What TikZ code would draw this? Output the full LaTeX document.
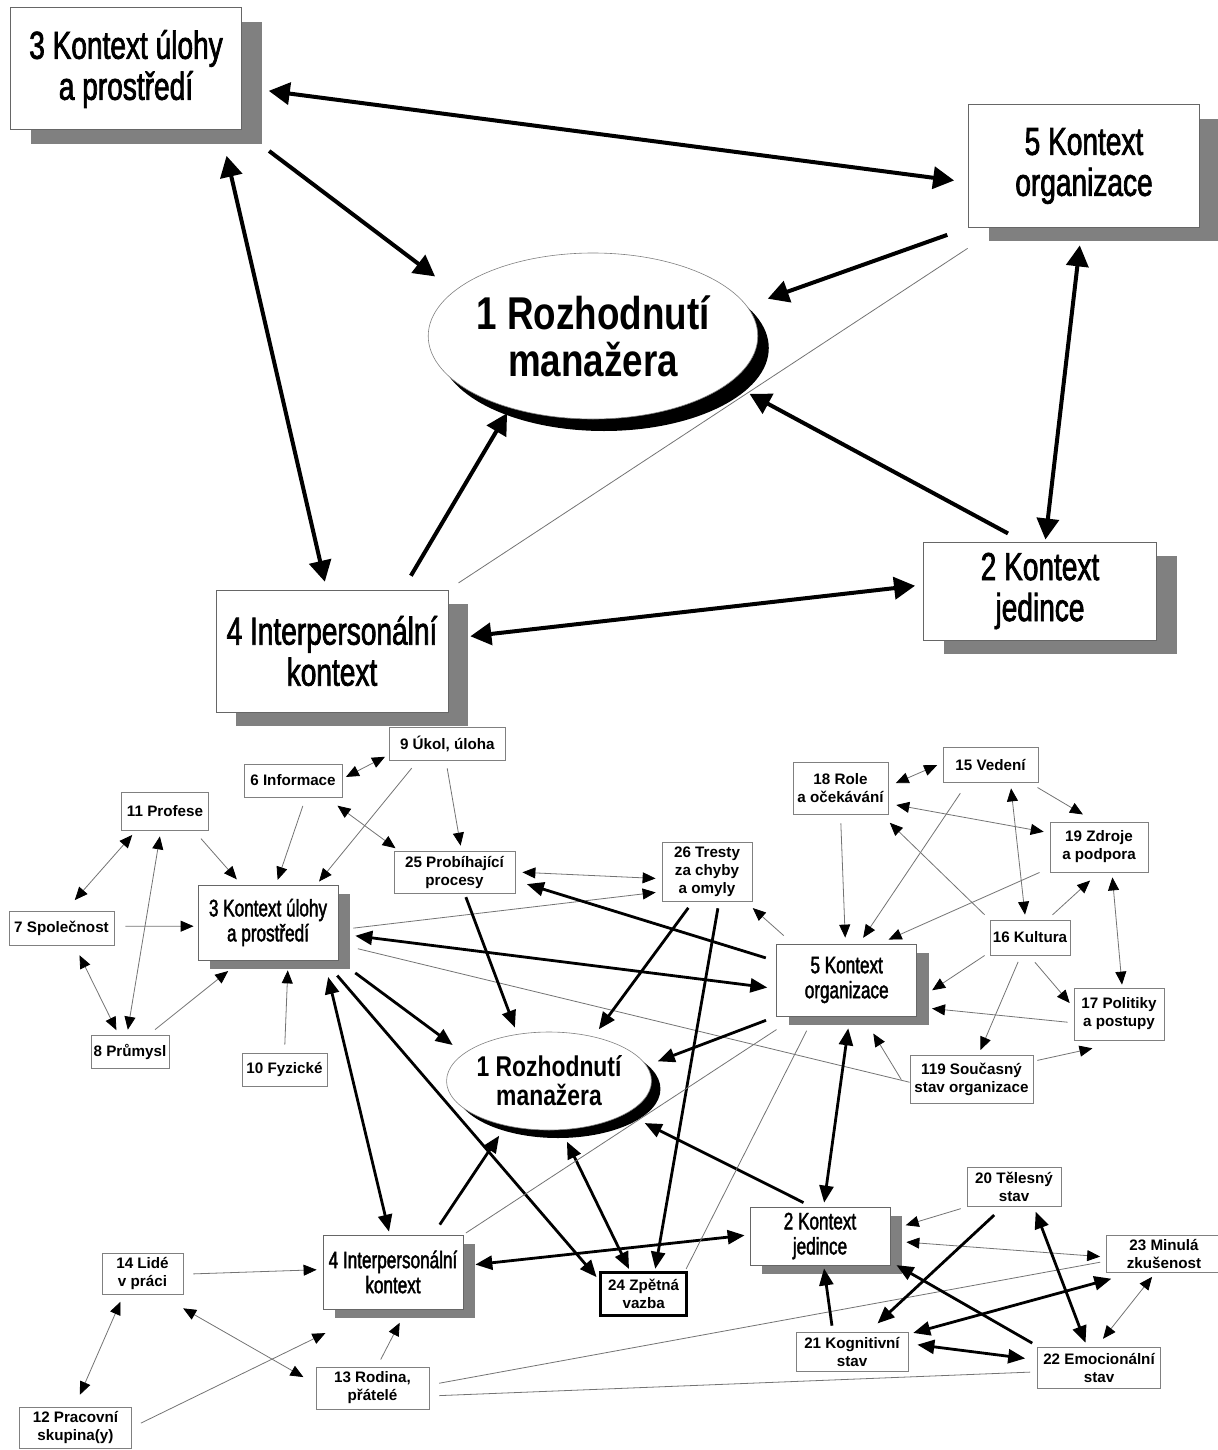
\documentclass[tikz,border=0pt]{standalone}
\usepackage{fontspec}
\setmainfont{Liberation Sans}
\newfontfamily\narrowfont[FakeStretch=0.72,FakeBold=1.8]{Liberation Sans}
\newfontfamily\ovalfont[FakeStretch=0.8]{Liberation Sans}
\usetikzlibrary{arrows.meta,shapes.geometric,shadows}

\begin{document}
\begin{tikzpicture}[x=0.5pt,y=-0.5pt,
  bigbox/.style={draw=black!60,line width=0.5pt,fill=white,align=center,inner sep=0pt,
    font=\narrowfont\fontsize{19.5pt}{20.5pt}\selectfont,
    drop shadow={shadow xshift=10pt,shadow yshift=-7pt,fill=black!50,opacity=1}},
  midbox/.style={draw=black!60,line width=0.4pt,fill=white,align=center,inner sep=0pt,
    font=\narrowfont\fontsize{11.9pt}{12.5pt}\selectfont,
    drop shadow={shadow xshift=6pt,shadow yshift=-4.5pt,fill=black!50,opacity=1}},
  smallbox/.style={draw=black!50,line width=0.4pt,fill=white,align=center,inner sep=0pt,
    font=\bfseries\fontsize{7.6pt}{9pt}\selectfont},
  bigoval/.style={ellipse,draw=black!50,line width=0.3pt,fill=white,align=center,inner sep=0pt,
    font=\ovalfont\bfseries\fontsize{23pt}{23.5pt}\selectfont,
    drop shadow={shadow xshift=5.5pt,shadow yshift=-6pt,fill=black,opacity=1}},
  smalloval/.style={ellipse,draw=black!50,line width=0.3pt,fill=white,align=center,inner sep=0pt,
    font=\ovalfont\bfseries\fontsize{14.3pt}{14.5pt}\selectfont,
    drop shadow={shadow xshift=4.5pt,shadow yshift=-4pt,fill=black,opacity=1}},
  bigarr/.style={line width=2pt,>={Triangle[length=10.5pt,width=11pt]}},
  midarr/.style={line width=1.4pt,>={Triangle[length=8.5pt,width=7pt]}},
  thinline/.style={draw=black!55,line width=0.4pt},
  thinarr/.style={thinline,>={Triangle[length=6.5pt,width=5.5pt,color=black]}}]
\useasboundingbox (0,0) rectangle (1218,1450);

\node[bigbox,minimum width=115.5pt,minimum height=61pt] (t3) at (126,69) {3 Kontext úlohy\\a prostředí};
\node[bigbox,minimum width=115.5pt,minimum height=61pt] (t5) at (1084,166) {5 Kontext\\organizace};
\node[bigoval,minimum width=162pt,minimum height=83pt] (t1) at (593,336) {1 Rozhodnutí\\manažera};
\node[bigbox,minimum width=116.5pt,minimum height=49pt] (t2) at (1040,591) {2 Kontext\\jedince};
\node[bigbox,minimum width=116pt,minimum height=61pt] (t4) at (332,651) {4 Interpersonální\\kontext};

\draw[bigarr,<->,shorten <=13.5pt,shorten >=7pt] (t3.-9) -- (t5.188);
\draw[bigarr,->,shorten <=17pt,shorten >=12pt] (t3.south east) -- (t1.162);
\draw[bigarr,<->,shorten <=13pt,shorten >=4pt] (t3.-33) -- (t4.95);
\draw[bigarr,->,shorten <=11pt,shorten >=11pt] (t5.south west) -- (t1.11);
\draw[bigarr,<->,shorten <=9pt,shorten >=1pt] (t5.-92) -- (t2.84);
\draw[bigarr,->,shorten <=8.5pt,shorten >=11.5pt] (t2.109) -- (t1.-19);
\draw[bigarr,->,shorten <=8pt,shorten >=3pt] (t4.41) -- (t1.221);
\draw[bigarr,<->,shorten <=11pt,shorten >=4pt] (t4.6) -- (t2.177);
\draw[thinline,shorten <=6pt,shorten >=19pt] (t4.north east) -- (t5.216);

\node[smallbox,minimum width=58.3pt,minimum height=16.5pt] (n9) at (447.3,743.5) {9 Úkol, úloha};
\node[smallbox,minimum width=49pt,minimum height=16.5pt] (n6) at (293,780.5) {6 Informace};
\node[smallbox,minimum width=43.5pt,minimum height=19pt] (n11) at (165,811) {11 Profese};
\node[smallbox,minimum width=60.5pt,minimum height=21pt] (n25) at (454.5,872) {25 Probíhající\\procesy};
\node[smallbox,minimum width=45pt,minimum height=29.5pt] (n26) at (707,871.5) {26 Tresty\\za chyby\\a omyly};
\node[midbox,minimum width=70pt,minimum height=37.5pt] (b3) at (268,922.5) {3 Kontext úlohy\\a prostředí};
\node[smallbox,minimum width=52.5pt,minimum height=17pt] (n7) at (61.5,928) {7 Společnost};
\node[smallbox,minimum width=39pt,minimum height=16.5pt] (n8) at (130,1051.5) {8 Průmysl};
\node[smallbox,minimum width=42.5pt,minimum height=16.5pt] (n10) at (284.5,1069.5) {10 Fyzické};
\node[smallbox,minimum width=47.5pt,minimum height=26pt] (n18) at (840.5,788) {18 Role\\a očekávání};
\node[smallbox,minimum width=47.5pt,minimum height=17.5pt] (n15) at (990.5,764.5) {15 Vedení};
\node[smallbox,minimum width=49pt,minimum height=25pt] (n19) at (1099,847) {19 Zdroje\\a podpora};
\node[smallbox,minimum width=40pt,minimum height=17.5pt] (n16) at (1030,937.5) {16 Kultura};
\node[midbox,minimum width=70pt,minimum height=36pt] (b5) at (846.7,980) {5 Kontext\\organizace};
\node[smallbox,minimum width=45pt,minimum height=26pt] (n17) at (1119,1014) {17 Politiky\\a postupy};
\node[smallbox,minimum width=61.5pt,minimum height=24pt] (n119) at (971.5,1079) {119 Současný\\stav organizace};
\node[smalloval,minimum width=97.5pt,minimum height=49pt] (b1) at (549,1081) {1 Rozhodnutí\\manažera};
\node[smallbox,minimum width=47pt,minimum height=19.5pt] (n20) at (1014,1187) {20 Tělesný\\stav};
\node[midbox,minimum width=70pt,minimum height=29pt] (b2) at (820,1236) {2 Kontext\\jedince};
\node[smallbox,minimum width=57.5pt,minimum height=18.5pt] (n23) at (1164,1254) {23 Minulá\\zkušenost};
\node[smallbox,minimum width=40.5pt,minimum height=20.5pt] (n14) at (142.5,1273.5) {14 Lidé\\v práci};
\node[midbox,minimum width=70pt,minimum height=37pt] (b4) at (393,1272) {4 Interpersonální\\kontext};
\node[smallbox,draw=black,line width=1.5pt,minimum width=43pt,minimum height=21.5pt] (n24) at (643.7,1293.8) {24 Zpětná\\vazba};
\node[smallbox,minimum width=56pt,minimum height=19.5pt] (n21) at (852,1351.5) {21 Kognitivní\\stav};
\node[smallbox,minimum width=61.5pt,minimum height=20.5pt] (n22) at (1099,1367.5) {22 Emocionální\\stav};
\node[smallbox,minimum width=56.5pt,minimum height=21pt] (n13) at (372.5,1388) {13 Rodina,\\přátelé};
\node[smallbox,minimum width=56pt,minimum height=20.5pt] (n12) at (75.5,1427.5) {12 Pracovní\\skupina(y)};

\draw[thinarr,<->,shorten <=2pt,shorten >=2pt] (n9.191) -- (n6.2);
\draw[thinarr,->,shorten <=5pt,shorten >=2pt] (n9.210) -- (b3.38);
\draw[thinarr,->,shorten <=4pt,shorten >=2.5pt] (n9.265) -- (n25.72);
\draw[thinarr,->,shorten <=4.5pt,shorten >=2.5pt] (n6.307) -- (b3.78);
\draw[thinarr,<->,shorten <=7pt,shorten >=2pt] (n6.333) -- (n25.159);
\draw[thinarr,->,shorten <=5.5pt,shorten >=3.5pt] (n11.326) -- (b3.125);
\draw[thinarr,<->,shorten <=3pt,shorten >=7pt] (n11.214) -- (n7.77);
\draw[thinarr,<->,shorten <=3pt,shorten >=2.5pt] (n11.258) -- (n8.100);
\draw[thinarr,->,shorten <=5.5pt,shorten >=2pt] (n7.2) -- (b3.183);
\draw[thinarr,<->,shorten <=5.5pt,shorten >=2.5pt] (n7.307) -- (n8.124);
\draw[thinarr,->,shorten <=4pt,shorten >=8.5pt] (n8.42) -- (b3.235);
\draw[thinarr,->,shorten <=4pt,shorten >=5pt] (n10.90) -- (b3.298);
\draw[thinarr,<->,shorten <=3.5pt,shorten >=3pt] (n25.0) -- (n26.189);
\draw[thinarr,->,shorten <=7.5pt,shorten >=3pt] (b3.354) -- (n26.204);
\draw[thinarr,->,shorten <=6pt,shorten >=5pt] (b5.146) -- (n26.322);
\draw[thinline,shorten <=10pt] (b3.343) -- (n119.183);
\draw[thinarr,->,shorten <=8pt,shorten >=10pt] (n119.193) -- (b5.294);
\draw[thinarr,<->,shorten <=4pt,shorten >=3pt] (n18.2) -- (n15.178);
\draw[thinarr,->,shorten <=5pt,shorten >=7pt] (n15.335) -- (n19.99);
\draw[thinarr,<->,shorten <=4pt,shorten >=3pt] (n18.342) -- (n19.164);
\draw[thinarr,->,shorten <=4.5pt,shorten >=3pt] (n18.270) -- (b5.92);
\draw[thinarr,->,shorten <=6.5pt,shorten >=3.5pt] (n15.218) -- (b5.71);
\draw[thinarr,->,shorten <=5.5pt,shorten >=5pt] (n19.203) -- (b5.48);
\draw[thinarr,<->,shorten <=3pt,shorten >=2.5pt] (n15.318) -- (n16.104);
\draw[thinarr,->,shorten <=3.5pt,shorten >=6pt] (n16.north west) -- (n18.327);
\draw[thinarr,->,shorten <=3.5pt,shorten >=6pt] (n16.46) -- (n19.270);
\draw[thinarr,->,shorten <=3pt,shorten >=9pt] (n16.200) -- (b5.344);
\draw[thinarr,->,shorten <=4.5pt,shorten >=3pt] (n16.267) -- (n17.172);
\draw[thinarr,->,shorten <=3.5pt,shorten >=2.5pt] (n16.243) -- (n119.74);
\draw[thinarr,<->,shorten <=2.5pt,shorten >=1.5pt] (n19.297) -- (n17.83);
\draw[thinarr,->,shorten <=3pt,shorten >=7.5pt] (n17.191) -- (b5.339);
\draw[thinarr,->,shorten <=2pt,shorten >=18.5pt] (n119.16) -- (n17.290);

\draw[midarr,->,shorten <=5.5pt,shorten >=6pt] (b5.165) -- (n25.352);
\draw[midarr,<->,shorten <=8.5pt,shorten >=4.5pt] (b3.351) -- (b5.187);
\draw[midarr,->,shorten <=4pt,shorten >=4.5pt] (n26.245) -- (b1.45);
\draw[midarr,->,shorten <=3.5pt,shorten >=1pt] (n26.292) -- (n24.64);
\draw[midarr,->,shorten <=2pt,shorten >=3.5pt] (n25.295) -- (b1.124);
\draw[midarr,->,shorten <=10.5pt,shorten >=7pt] (b3.south east) -- (b1.162);
\draw[midarr,->,shorten <=10pt,shorten >=2pt] (b3.326) -- (n24.163);
\draw[midarr,<->,shorten <=8.5pt,shorten >=1.5pt] (b3.326) -- (b4.95);
\draw[midarr,->,shorten <=5.5pt,shorten >=6pt] (b5.south west) -- (b1.9);
\draw[midarr,<->,shorten <=6pt,shorten >=2pt] (b5.275) -- (b2.83);
\draw[midarr,->,shorten <=6pt,shorten >=6pt] (b4.43) -- (b1.226);
\draw[midarr,<->,shorten <=6pt,shorten >=2.5pt] (b4.5) -- (b2.179);
\draw[midarr,<->,shorten <=6.5pt,shorten >=1pt] (b1.284) -- (n24.121);
\draw[midarr,->,shorten <=4.5pt,shorten >=10.5pt] (b2.106) -- (b1.337);
\draw[thinline,shorten <=1.5pt,shorten >=12pt] (b4.north east) -- (b5.216);
\draw[thinline,shorten <=1pt,shorten >=8pt] (n24.29) -- (b5.228);

\draw[thinline,shorten <=5pt,shorten >=3pt] (n13.3) -- (n23.187);
\draw[thinline,shorten <=5pt,shorten >=3.5pt] (n13.352) -- (n22.184);
\draw[thinarr,->,shorten <=5pt,shorten >=3pt] (n14.359) -- (b4.178);
\draw[thinarr,<->,shorten <=14pt,shorten >=7pt] (n14.308) -- (n13.176);
\draw[thinarr,<->,shorten <=4pt,shorten >=6.5pt] (n14.228) -- (n12.92);
\draw[thinarr,->,shorten <=5pt,shorten >=27pt] (n12.0) -- (b4.243);
\draw[thinarr,->,shorten <=4pt,shorten >=7.5pt] (n13.78) -- (b4.290);

\draw[thinarr,->,shorten <=3pt,shorten >=8pt] (n20.south west) -- (b2.5);
\draw[thinarr,<->,shorten <=8pt,shorten >=3pt] (b2.356) -- (n23.183);
\draw[thinarr,<->,shorten <=2.5pt,shorten >=5pt] (n23.245) -- (n22.96);
\draw[midarr,->,shorten <=6pt,shorten >=6pt] (n20.241) -- (n21.50);
\draw[midarr,<->,shorten <=2.5pt,shorten >=2pt] (n20.315) -- (n22.120);
\draw[midarr,<->,shorten <=11pt,shorten >=2.5pt] (n23.211) -- (n21.17);
\draw[midarr,<->,shorten <=4.5pt,shorten >=6pt] (n21.8) -- (n22.173);
\draw[midarr,->,shorten <=3pt,shorten >=1.5pt] (n21.134) -- (b2.277);
\draw[midarr,->,shorten <=3.5pt,shorten >=3.5pt] (n22.161) -- (b2.340);
\end{tikzpicture}
\end{document}
